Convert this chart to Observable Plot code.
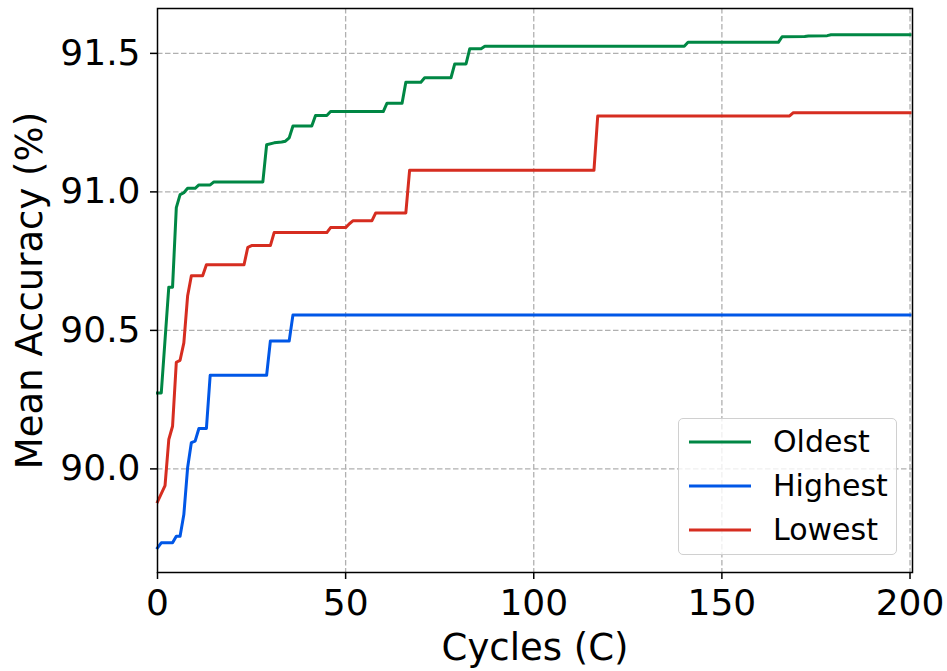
<!DOCTYPE html>
<html>
<head>
<meta charset="utf-8">
<script src="https://cdn.jsdelivr.net/npm/d3@7"></script>
<script src="https://cdn.jsdelivr.net/npm/@observablehq/plot@0.6"></script>
<style>
  html, body { margin: 0; padding: 0; background: #fff; }
  #wrap { position: relative; width: 947px; height: 671px; font-family: "DejaVu Sans", sans-serif; }
  #legend {
    position: absolute; left: 678px; top: 418px; width: 219px; height: 137px;
    box-sizing: border-box; border: 1.2px solid #d0d0d0; border-radius: 5px;
    background: rgba(255,255,255,0.8);
  }
  .item { position: absolute; left: 10px; height: 30px; display: flex; align-items: center; }
  .item svg { width: 62px; height: 6px; }
  .item span { position: absolute; left: 84px; font-size: 30px; color: #000; white-space: nowrap; line-height: 30px; }
</style>
</head>
<body>
<div id="wrap"></div>
<script>
// ---- Data ----
const seriesNames = ["Oldest", "Highest", "Lowest"];
const seriesColors = ["#008744", "#0057e7", "#d62d20"];

const oldestCycles = [0, 1, 3, 4, 5, 6, 7, 8, 10, 11, 14, 15, 28, 29, 31, 33, 34, 35, 36, 41, 42, 45, 46, 60, 61, 65, 66, 70, 71, 78, 79, 82, 83, 86, 87, 140, 141, 165, 166, 172, 173, 178, 179, 200];
const oldestAcc = [90.274, 90.274, 90.656, 90.656, 90.943, 90.99, 90.997, 91.013, 91.013, 91.025, 91.025, 91.036, 91.036, 91.17, 91.177, 91.18, 91.183, 91.195, 91.238, 91.238, 91.276, 91.276, 91.29, 91.29, 91.32, 91.32, 91.396, 91.396, 91.412, 91.412, 91.462, 91.462, 91.517, 91.517, 91.526, 91.526, 91.54, 91.54, 91.56, 91.561, 91.563, 91.564, 91.567, 91.567];

const highestCycles = [0, 1, 4, 5, 6, 7, 8, 9, 10, 11, 13, 14, 29, 30, 35, 36, 200];
const highestAcc = [89.715, 89.733, 89.733, 89.757, 89.757, 89.835, 90.004, 90.095, 90.10, 90.146, 90.146, 90.338, 90.338, 90.462, 90.462, 90.556, 90.556];

const lowestCycles = [0, 2, 3, 4, 5, 6, 7, 8, 9, 12, 13, 23, 24, 25, 30, 31, 45, 46, 50, 51, 52, 57, 58, 66, 67, 116, 117, 168, 169, 200];
const lowestAcc = [89.881, 89.94, 90.106, 90.154, 90.385, 90.392, 90.455, 90.624, 90.697, 90.697, 90.737, 90.737, 90.80, 90.806, 90.806, 90.853, 90.853, 90.871, 90.871, 90.885, 90.896, 90.896, 90.924, 90.924, 91.078, 91.078, 91.274, 91.274, 91.286, 91.286];

const xTicks = [0, 50, 100, 150, 200];
const yTicks = [90.0, 90.5, 91.0, 91.5];
const xLabel = "Cycles (C)";
const yLabel = "Mean Accuracy (%)";

// ---- Build table ----
const allCycles = [oldestCycles, highestCycles, lowestCycles];
const allAcc = [oldestAcc, highestAcc, lowestAcc];
const rows = [];
seriesNames.forEach((name, i) => {
  allCycles[i].forEach((c, j) => rows.push({series: name, cycle: c, acc: allAcc[i][j]}));
});

const FONT = "DejaVu Sans, sans-serif";

const chart = Plot.plot({
  width: 947,
  height: 671,
  marginLeft: 157,
  marginRight: 35,
  marginTop: 8,
  marginBottom: 99,
  style: {fontFamily: FONT, background: "#fff", overflow: "visible"},
  x: {domain: [0, 200.66]},
  y: {domain: [89.626, 91.662]},
  color: {domain: seriesNames, range: seriesColors},
  marks: [
    Plot.gridX(xTicks.filter(d => d > 0), {stroke: "#b0b0b0", strokeOpacity: 1, strokeWidth: 1.3, strokeDasharray: "5.5,2.5"}),
    Plot.gridY(yTicks, {stroke: "#b0b0b0", strokeOpacity: 1, strokeWidth: 1.3, strokeDasharray: "5.5,2.5"}),
    Plot.line(rows, {x: "cycle", y: "acc", z: "series", stroke: "series", strokeWidth: 3, strokeLinejoin: "round", strokeLinecap: "square"}),
    Plot.frame({stroke: "#000", strokeWidth: 1.5}),
    Plot.axisX(xTicks, {tickSize: 7, tickPadding: 10, fontSize: 36, strokeWidth: 1.5, stroke: "#000", fill: "#000", label: null}),
    Plot.axisY(yTicks, {tickSize: 7, tickPadding: 10, fontSize: 36, strokeWidth: 1.5, stroke: "#000", fill: "#000", tickFormat: d => d.toFixed(1), label: null}),
    Plot.text([xLabel], {frameAnchor: "bottom", dy: 76, fontSize: 37, fill: "#000", lineAnchor: "middle", textAnchor: "middle", text: d => d}),
    Plot.text([yLabel], {frameAnchor: "left", dx: -127, rotate: -90, fontSize: 37, fill: "#000", lineAnchor: "middle", textAnchor: "middle", text: d => d})
  ]
});

const wrap = document.getElementById("wrap");
wrap.appendChild(chart);

// ---- Legend (inside the plot, lower right) ----
const legend = document.createElement("div");
legend.id = "legend";
const itemTops = [8, 52, 96];
seriesNames.forEach((name, i) => {
  const item = document.createElement("div");
  item.className = "item";
  item.style.top = itemTops[i] + "px";
  item.innerHTML = `<svg viewBox="0 0 62 6"><line x1="0" y1="3" x2="62" y2="3" stroke="${seriesColors[i]}" stroke-width="3"/></svg><span>${name}</span>`;
  legend.appendChild(item);
});
wrap.appendChild(legend);
</script>
</body>
</html>
